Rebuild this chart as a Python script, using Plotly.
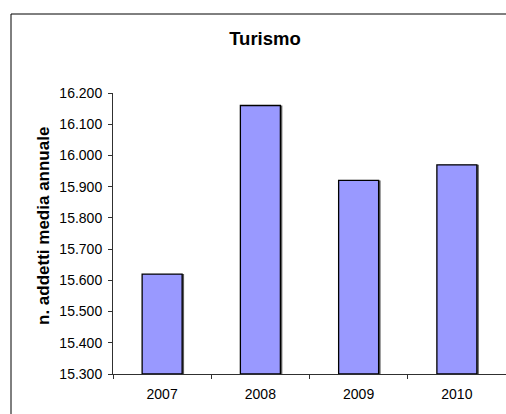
import plotly.graph_objects as go

# Average annual employees in tourism
years = ["2007", "2008", "2009", "2010"]
employees = [15620, 16160, 15920, 15970]
y_ticks = [15300, 15400, 15500, 15600, 15700, 15800, 15900, 16000, 16100, 16200]
y_base = 15300

W, H = 506, 414
L, R, T, B = 113, 0, 93, 40
plot_w = W - L - R
plot_h = H - T - B

bar_w = 0.407
shadow_dx = 0.02
heights = [v - y_base for v in employees]

fig = go.Figure()

# soft drop shadow behind each bar
fig.add_trace(go.Bar(
    x=years, y=heights, base=y_base,
    width=bar_w, offset=-bar_w / 2 + shadow_dx,
    marker=dict(color="#5c5c5c", line=dict(width=0)),
    hoverinfo="skip", showlegend=False,
))
fig.add_trace(go.Bar(
    x=years, y=heights, base=y_base,
    width=bar_w, offset=-bar_w / 2,
    marker=dict(color="#9999FF", line=dict(color="black", width=1.3)),
    showlegend=False,
))

fig.update_layout(
    width=W, height=H,
    margin=dict(l=L, r=R, t=T, b=B, pad=0),
    paper_bgcolor="white", plot_bgcolor="white",
    barmode="overlay",
    separators=",.",
    font=dict(family="Liberation Sans, Arial, sans-serif", color="black"),
    title=dict(
        text="<b>Turismo</b>",
        font=dict(size=18.5, color="black"),
        x=(265 - L) / plot_w, xref="paper", xanchor="center",
        y=1 - 39 / H, yref="container", yanchor="middle",
    ),
    annotations=[dict(
        text="<b>n. addetti media annuale</b>",
        textangle=-90, showarrow=False,
        font=dict(size=17, color="black"),
        xref="paper", yref="paper",
        x=(43 - L) / plot_w, y=(H - B - 226) / plot_h,
        xanchor="center", yanchor="middle",
    )],
    shapes=[dict(
        type="rect", xref="paper", yref="paper",
        x0=(11 - L) / plot_w, x1=1.2,
        y0=-0.4, y1=(H - B - 14) / plot_h,
        line=dict(color="black", width=1), fillcolor="rgba(0,0,0,0)",
        layer="above",
    )],
)

fig.update_xaxes(
    type="category",
    showline=True, linecolor="#303030", linewidth=1,
    ticks="outside", tickson="boundaries", ticklen=4, tickcolor="#303030",
    tickfont=dict(size=14, color="black"), ticklabelstandoff=7,
    showgrid=False, zeroline=False,
)
fig.update_yaxes(
    range=[15300, 16200],
    tickvals=y_ticks, tickformat=",d",
    showline=True, linecolor="#303030", linewidth=1,
    ticks="outside", ticklen=4, tickcolor="#303030",
    tickfont=dict(size=14, color="black"), ticklabelstandoff=3,
    showgrid=False, zeroline=False,
)

fig.write_html("out.html")
